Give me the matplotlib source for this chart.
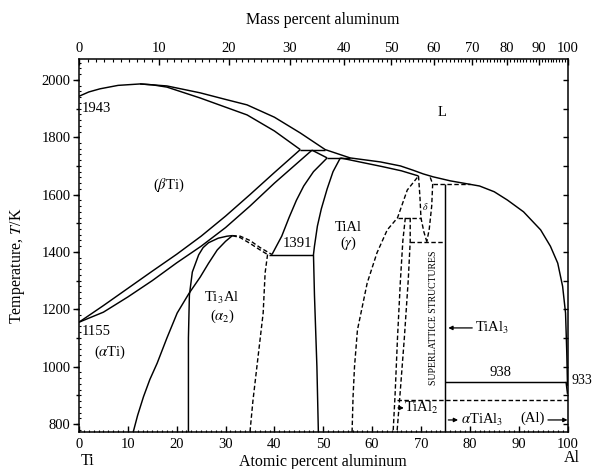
import numpy as np
import matplotlib.pyplot as plt
from matplotlib.ticker import MultipleLocator, FixedLocator

plt.rcParams['font.family'] = ['Liberation Serif', 'DejaVu Serif']
plt.rcParams['mathtext.fontset'] = 'stix'

M_TI, M_AL = 47.87, 26.98

# ---- solid boundaries, (at.% Al, T/K) ----
liq_x = [0, 2, 4.3, 8, 12.5, 18, 24.8, 30, 34.4, 40, 45.3, 50.4, 55.5, 61.7, 65.8, 68.4, 70.5,
         72.5, 76, 80, 82, 85, 87.7, 91, 94.5, 96.5, 98, 99, 99.6, 99.85, 100]
liq_t = [1943, 1958, 1969, 1981, 1986, 1979, 1955, 1932, 1913, 1870, 1815, 1757, 1728, 1714, 1700,
         1685, 1672, 1662, 1648, 1636, 1630, 1610, 1581, 1540, 1477, 1420, 1361, 1280, 1187, 1050, 933]

bsol_x = [12.5, 15, 18, 24.8, 30, 34.4, 40, 45.3]
bsol_t = [1986, 1983, 1975, 1937, 1905, 1878, 1822, 1757]

btr_x = [0, 5, 10, 15, 20, 25, 30, 35, 40, 45.3]
btr_t = [1155, 1213, 1273, 1333, 1392, 1455, 1525, 1600, 1677, 1757]

atr_x = [0, 5, 10, 15, 20, 25, 30, 35, 40, 47.7]
atr_t = [1155, 1190, 1243, 1300, 1362, 1420, 1485, 1560, 1640, 1755]

per1_x, per1_t = [45.3, 50.4], [1757, 1757]
asol_x, asol_t = [47.7, 50.8], [1755, 1728]
per2_x, per2_t = [50.8, 55.5], [1728, 1728]

gsol_x = [53.5, 58, 62, 66, 69.5]
gsol_t = [1728, 1712, 1698, 1683, 1665]

a_ag_x = [50.8, 48, 46, 44.5, 43, 41.5, 39.5]
a_ag_t = [1728, 1680, 1630, 1580, 1520, 1455, 1391]

ag_g_x = [53.5, 52, 50.8, 49.6, 48.8, 48.2, 48.0, 48.2, 48.7, 49]
ag_g_t = [1728, 1680, 1620, 1550, 1490, 1420, 1391, 1250, 1000, 772]

eut_x, eut_t = [38.8, 48.0], [1391, 1391]

a2_out_x = [11.1, 12.0, 13.2, 14.5, 16, 18, 20.1, 22.5, 24.8, 26.5, 28.3, 30, 31.4]
a2_out_t = [772, 830, 895, 955, 1012, 1100, 1187, 1255, 1312, 1360, 1407, 1437, 1457]

a2_in_x = [22.4, 22.4, 22.6, 23.2, 24.5, 25.4, 26.5, 28.5, 30.3, 31.4]
a2_in_t = [772, 1100, 1250, 1330, 1390, 1415, 1432, 1448, 1455, 1457]

tial3_x, tial3_t = [75, 75], [1637, 772]
l938_x, l938_t = [75, 99.7], [947, 947]
al_x, al_t = [99.7, 100], [947, 905]

# ---- dashed boundaries ----
a2r1_x = [31.4, 33, 35, 37, 39.5]
a2r1_t = [1457, 1455, 1440, 1416, 1391]
a2r2_x = [31.4, 33, 35, 36.8, 38.6]
a2r2_t = [1457, 1450, 1430, 1410, 1391]

a2rb_x = [38.6, 38.1, 37.7, 36.5, 35.6, 35]
a2rb_t = [1391, 1327, 1187, 1012, 880, 772]

gr_x = [55.9, 56.1, 56.4, 57, 59, 61, 63.1, 65.2, 67.2, 69.5]
gr_t = [772, 894, 1000, 1128, 1292, 1397, 1477, 1519, 1616, 1665]

h1519_x, h1519_t = [65.2, 70.0], [1519, 1519]

d1_x = [66.8, 66.3, 65.8, 65.2, 64.7, 64.3]
d1_t = [1519, 1440, 1302, 1100, 900, 772]
d2_x = [67.8, 67.8, 67.4, 66.6, 65.7, 65.1]
d2_t = [1519, 1436, 1302, 1100, 900, 772]

dl_x = [69.5, 69.8, 70.0, 70.6, 71.2]
dl_t = [1665, 1590, 1519, 1470, 1436]
dr_x = [71.9, 72.4, 72.2, 71.7, 71.2]
dr_t = [1660, 1637, 1560, 1480, 1436]

h1637_x, h1637_t = [72.4, 80.0], [1637, 1637]
h1436_x, h1436_t = [67.8, 75.0], [1436, 1436]
h884_x, h884_t = [65.1, 100], [884, 884]

solid_lines = [(liq_x, liq_t), (bsol_x, bsol_t), (btr_x, btr_t), (atr_x, atr_t),
               (per1_x, per1_t), (asol_x, asol_t), (per2_x, per2_t), (gsol_x, gsol_t),
               (a_ag_x, a_ag_t), (ag_g_x, ag_g_t), (eut_x, eut_t), (a2_out_x, a2_out_t),
               (a2_in_x, a2_in_t), (tial3_x, tial3_t), (l938_x, l938_t), (al_x, al_t)]
dashed_lines = [(a2r1_x, a2r1_t), (a2r2_x, a2r2_t), (a2rb_x, a2rb_t), (gr_x, gr_t),
                (h1519_x, h1519_t), (d1_x, d1_t), (d2_x, d2_t), (dl_x, dl_t), (dr_x, dr_t),
                (h1637_x, h1637_t), (h1436_x, h1436_t), (h884_x, h884_t)]

mass_ticks = list(range(0, 101, 10))


def mass_to_at(w):
    w = np.asarray(w, dtype=float)
    a = w / M_AL
    b = (100 - w) / M_TI
    return 100 * a / (a + b)


fig = plt.figure(figsize=(5.97, 4.69), dpi=100)
ax = fig.add_axes([79 / 597, 37 / 469, 488.5 / 597, 373 / 469])
ax.set_xlim(0, 100)
ax.set_ylim(772, 2073)

for xs, ts in solid_lines:
    ax.plot(xs, ts, color='k', lw=1.05, solid_capstyle='butt')
for xs, ts in dashed_lines:
    ax.plot(xs, ts, color='k', lw=1.0, linestyle=(0, (3.2, 1.8)))

# axes and ticks
for s in ax.spines.values():
    s.set_linewidth(1.1)
ax.xaxis.set_major_locator(MultipleLocator(10))
ax.xaxis.set_minor_locator(MultipleLocator(1))
ax.yaxis.set_major_locator(MultipleLocator(200))
ax.yaxis.set_minor_locator(MultipleLocator(20))
ax.tick_params(axis='x', which='major', direction='in', length=4, width=1, labelsize=10.5, pad=4)
ax.tick_params(axis='x', which='minor', direction='in', length=1.8, width=0.8)
ax.tick_params(axis='y', which='major', direction='out', length=4, width=1, labelsize=10.5, pad=2)
ax.tick_params(axis='y', which='minor', direction='in', length=1.5, width=0.8)
ax.tick_params(top=False, right=False, which='both')

sl = ax.secondary_yaxis('left')
sl.yaxis.set_major_locator(MultipleLocator(100))
sl.tick_params(direction='out', length=2.5, width=1, labelleft=False)
sl.spines['left'].set_visible(False)
sr = ax.secondary_yaxis('right')
sr.yaxis.set_major_locator(MultipleLocator(100))
sr.tick_params(direction='in', length=3.5, width=1, labelright=False)
sr.spines['right'].set_visible(False)

top = ax.twiny()
top.set_xlim(0, 100)
top.xaxis.set_major_locator(FixedLocator(mass_to_at(mass_ticks)))
top.set_xticklabels([str(m) for m in mass_ticks])
top.xaxis.set_minor_locator(FixedLocator(mass_to_at(np.arange(0, 101, 1))))
top.tick_params(axis='x', which='major', direction='in', length=4, width=1, labelsize=10.5, pad=3)
top.tick_params(axis='x', which='minor', direction='in', length=1.8, width=0.8)
for s in top.spines.values():
    s.set_visible(False)

# axis titles
fig.text(323 / 597, 1 - 20 / 469, 'Mass percent aluminum', ha='center', va='center', fontsize=11.5)
fig.text(323 / 597, 1 - 462 / 469, 'Atomic percent aluminum', ha='center', va='center', fontsize=11.5)
fig.text(18 / 597, 1 - 266 / 469, 'Temperature, $T$/K', ha='center', va='center', rotation=90, fontsize=11.5)
fig.text(88 / 597, 1 - 461 / 469, 'Ti', ha='center', va='center', fontsize=11.5)
fig.text(572 / 597, 1 - 458 / 469, 'Al', ha='center', va='center', fontsize=11.5)

# region labels
fs = 10.5
ax.text(0.6, 1902, '1943', ha='left', va='center', fontsize=fs)
ax.text(18.4, 1634, r'($\beta$Ti)', ha='center', va='center', fontsize=fs)
ax.text(74.4, 1888, 'L', ha='center', va='center', fontsize=fs)
ax.text(0.6, 1121, '1155', ha='left', va='center', fontsize=fs)
ax.text(6.4, 1051, r'($\alpha$Ti)', ha='center', va='center', fontsize=fs)
ax.text(29.3, 1240, r'Ti$_3$Al', ha='center', va='center', fontsize=fs)
ax.text(29.3, 1177, r'($\alpha_2$)', ha='center', va='center', fontsize=fs)
ax.text(44.7, 1428, '1391', ha='center', va='center', fontsize=fs)
ax.text(55.1, 1487, 'TiAl', ha='center', va='center', fontsize=fs)
ax.text(55.1, 1431, r'($\gamma$)', ha='center', va='center', fontsize=fs)
ax.text(70.9, 1557, r'$\delta$', ha='center', va='center', fontsize=7)
ax.text(72.6, 1170, 'SUPERLATTICE STRUCTURES', ha='center', va='center', rotation=90, fontsize=7)
ax.text(86.3, 978, '938', ha='center', va='center', fontsize=fs)
ax.text(100.9, 953, '933', ha='left', va='center', fontsize=10, clip_on=False)
ax.text(81.1, 1135, r'TiAl$_3$', ha='left', va='center', fontsize=fs)
ax.text(66.6, 856, r'TiAl$_2$', ha='left', va='center', fontsize=fs)
ax.text(78.3, 814, r'$\alpha$TiAl$_3$', ha='left', va='center', fontsize=fs)
ax.text(92.8, 821, '(Al)', ha='center', va='center', fontsize=fs)

arrow = dict(arrowstyle='-|>', lw=0.9, color='k', mutation_scale=6, shrinkA=0, shrinkB=0)
ax.annotate('', xy=(75.6, 1135), xytext=(80.5, 1135), arrowprops=arrow)
ax.annotate('', xy=(66.5, 856), xytext=(65.3, 856), arrowprops=arrow)
ax.annotate('', xy=(77.6, 814), xytext=(75.6, 814), arrowprops=arrow)
ax.annotate('', xy=(100, 814), xytext=(96.0, 814), arrowprops=arrow)

fig.savefig('out.png', dpi=100)
